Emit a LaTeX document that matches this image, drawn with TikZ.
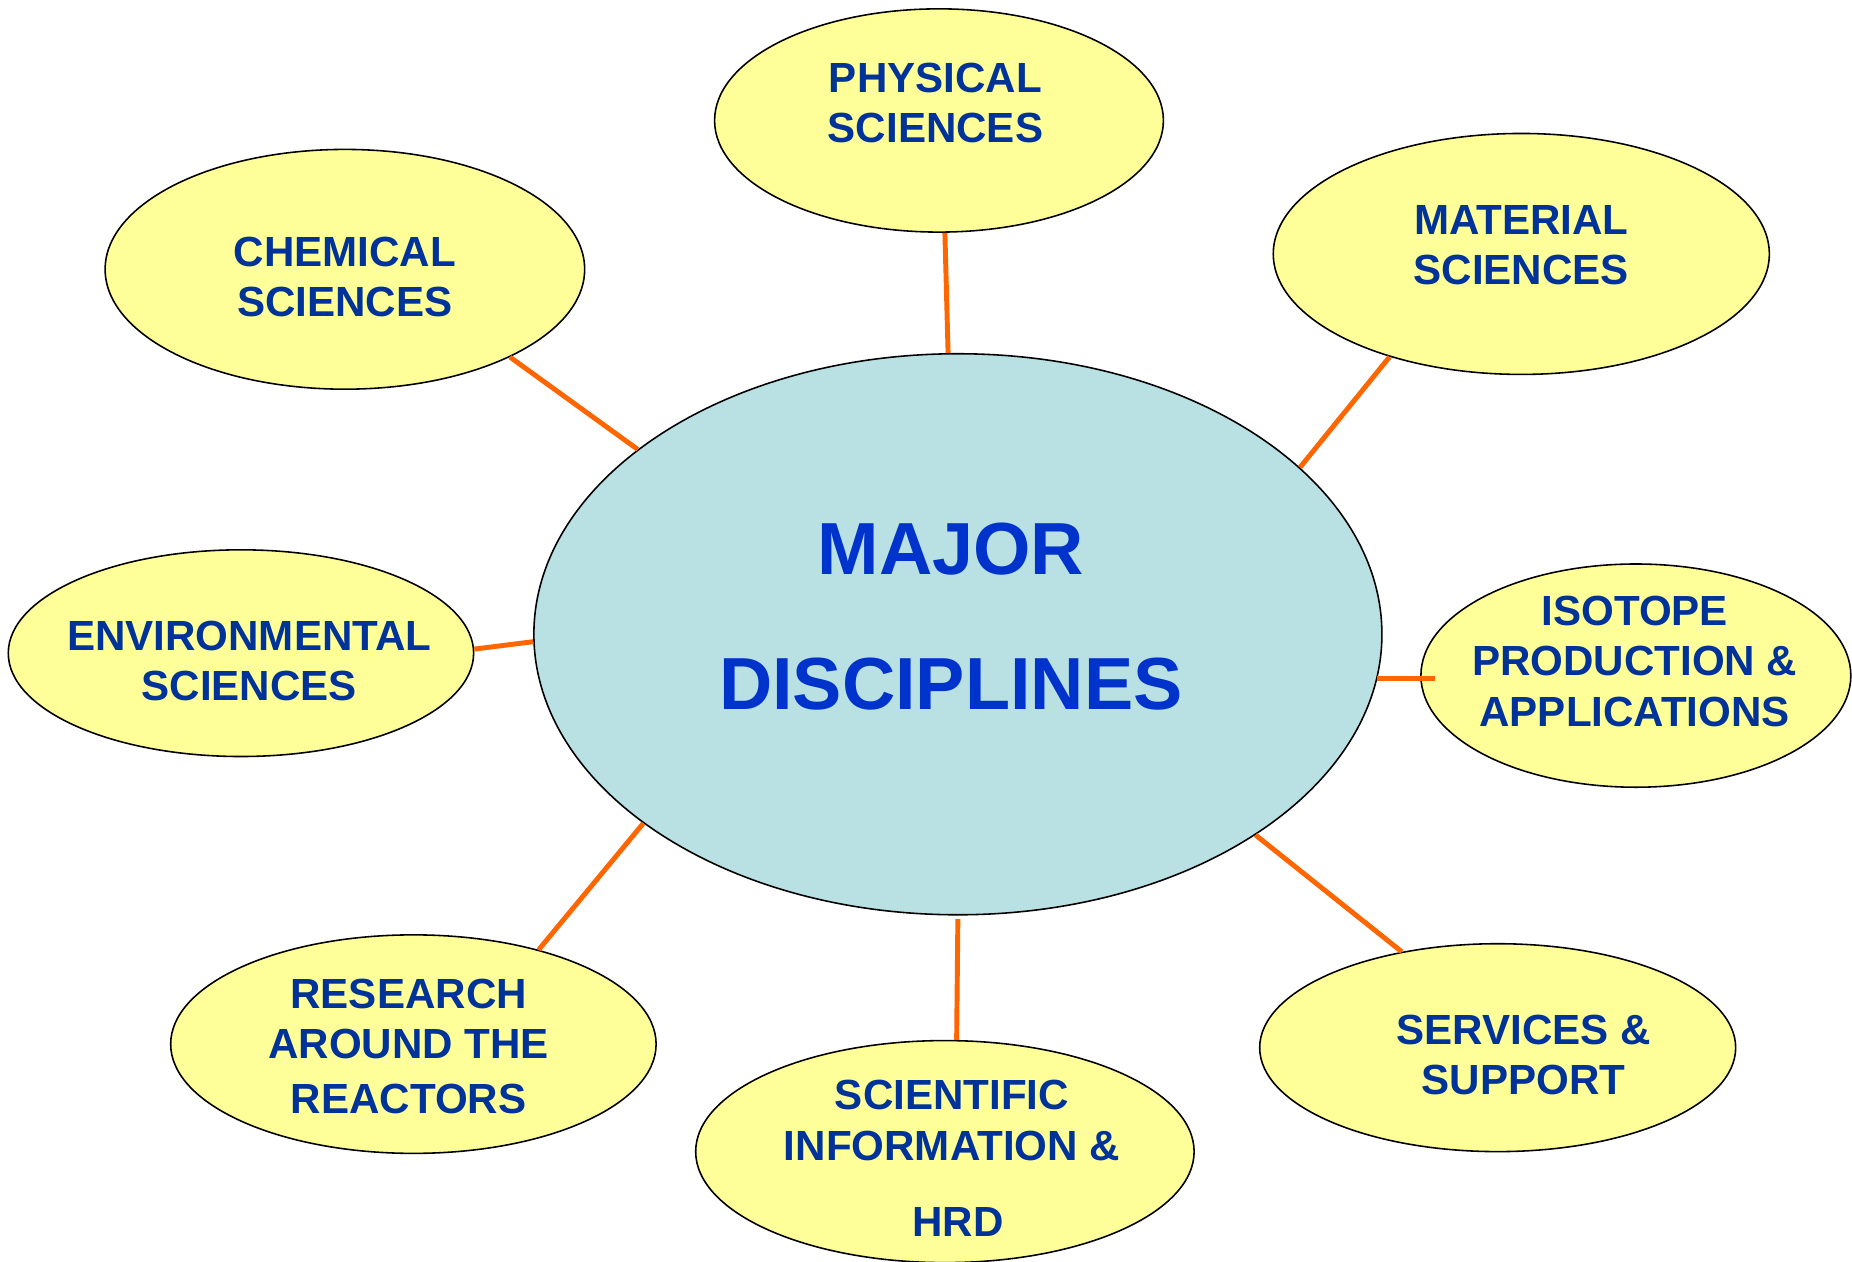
\documentclass[tikz,border=0pt]{standalone}
\usepackage{fontspec}
\setmainfont{Liberation Sans}
\usetikzlibrary{shapes.geometric}
\definecolor{bubble area}{HTML}{FFFF99}
\definecolor{hub area}{HTML}{B9E0E3}
\definecolor{bubble text}{HTML}{003399}
\definecolor{hub text}{HTML}{0033CC}
\definecolor{link edge}{HTML}{FF6600}
\tikzset{radii/.style 2 args={minimum width=#1*1.2pt, minimum height=#2*1.2pt},
	bubble/.style={ellipse, inner sep=0pt, fill=bubble area, draw=black, line width=0.8pt},
	hub/.style={ellipse, inner sep=0pt, fill=hub area, draw=black, line width=0.8pt},
	bubbletext/.style={text=bubble text, align=center, font=\bfseries\fontsize{21.4}{25.6}\selectfont},
	hubtext/.style={text=hub text, align=center, font=\bfseries\fontsize{37.5}{68.4}\selectfont},
	link/.style={draw=link edge, line width=2.5pt}}

\begin{document}
\begin{tikzpicture}[x=0.6pt, y=-0.6pt]
		\useasboundingbox (0,0) rectangle (1568,1068);
		% the hub
		\node[hub, radii={359}{237.5}] (major) at (811,537) {};
		\node[hubtext] at (805,522) {MAJOR\\DISCIPLINES};
		
		% the bubbles round it
		\node[bubble, radii={190}{94.5}] (phys) at (795,102) {};
		\node[bubble, radii={203}{101.5}] (chem) at (292,228) {};
		\node[bubble, radii={210}{102}] (mat) at (1288,215) {};
		\node[bubble, radii={197}{87.5}] (env) at (204,553) {};
		\node[bubble, radii={182}{94.5}] (iso) at (1385,572) {};
		\node[bubble, radii={205.5}{92.5}] (res) at (350,884) {};
		\node[bubble, radii={211}{94}] (sci) at (800,975) {};
		\node[bubble, radii={201.5}{88}] (serv) at (1268,887) {};
		
		\node[bubbletext] at (792,87) {PHYSICAL\\SCIENCES};
		\node[bubbletext] at (292,234.5) {CHEMICAL\\SCIENCES};
		\node[bubbletext] at (1288,207.5) {MATERIAL\\SCIENCES};
		\node[bubbletext] at (211,559.5) {ENVIRONMENTAL\\SCIENCES};
		\node[bubbletext] at (1384,560) {ISOTOPE\\PRODUCTION \&\\APPLICATIONS};
		\node[bubbletext] at (346,886) {RESEARCH\\AROUND THE\\[2.5pt]REACTORS};
		\node[bubbletext] at (806,980.5) {SCIENTIFIC\\INFORMATION \&\\[13pt]\hspace*{6pt}HRD};
		\node[bubbletext] at (1290,893) {SERVICES \&\\SUPPORT};
		
		% spokes
		\draw[link] (major.92.7) -- (phys.-87);
		\draw[link] (major.150.6) -- (chem.-28.2);
		\draw[link] (major.26.5) -- (mat.-142.7);
		\draw[link] (major.181.6) -- (env.1.7);
		\draw[link, shorten >=-7.8pt] (major.-6) -- (major.-6 -| iso.west);
		\draw[link] (major.211.4) -- (res.37.6);
		\draw[link, shorten <=1.8pt] (major.-90.6) -- (sci.84.5);
		\draw[link] (major.-34.8) -- (serv.135.7);
		\end{tikzpicture}
\end{document}
